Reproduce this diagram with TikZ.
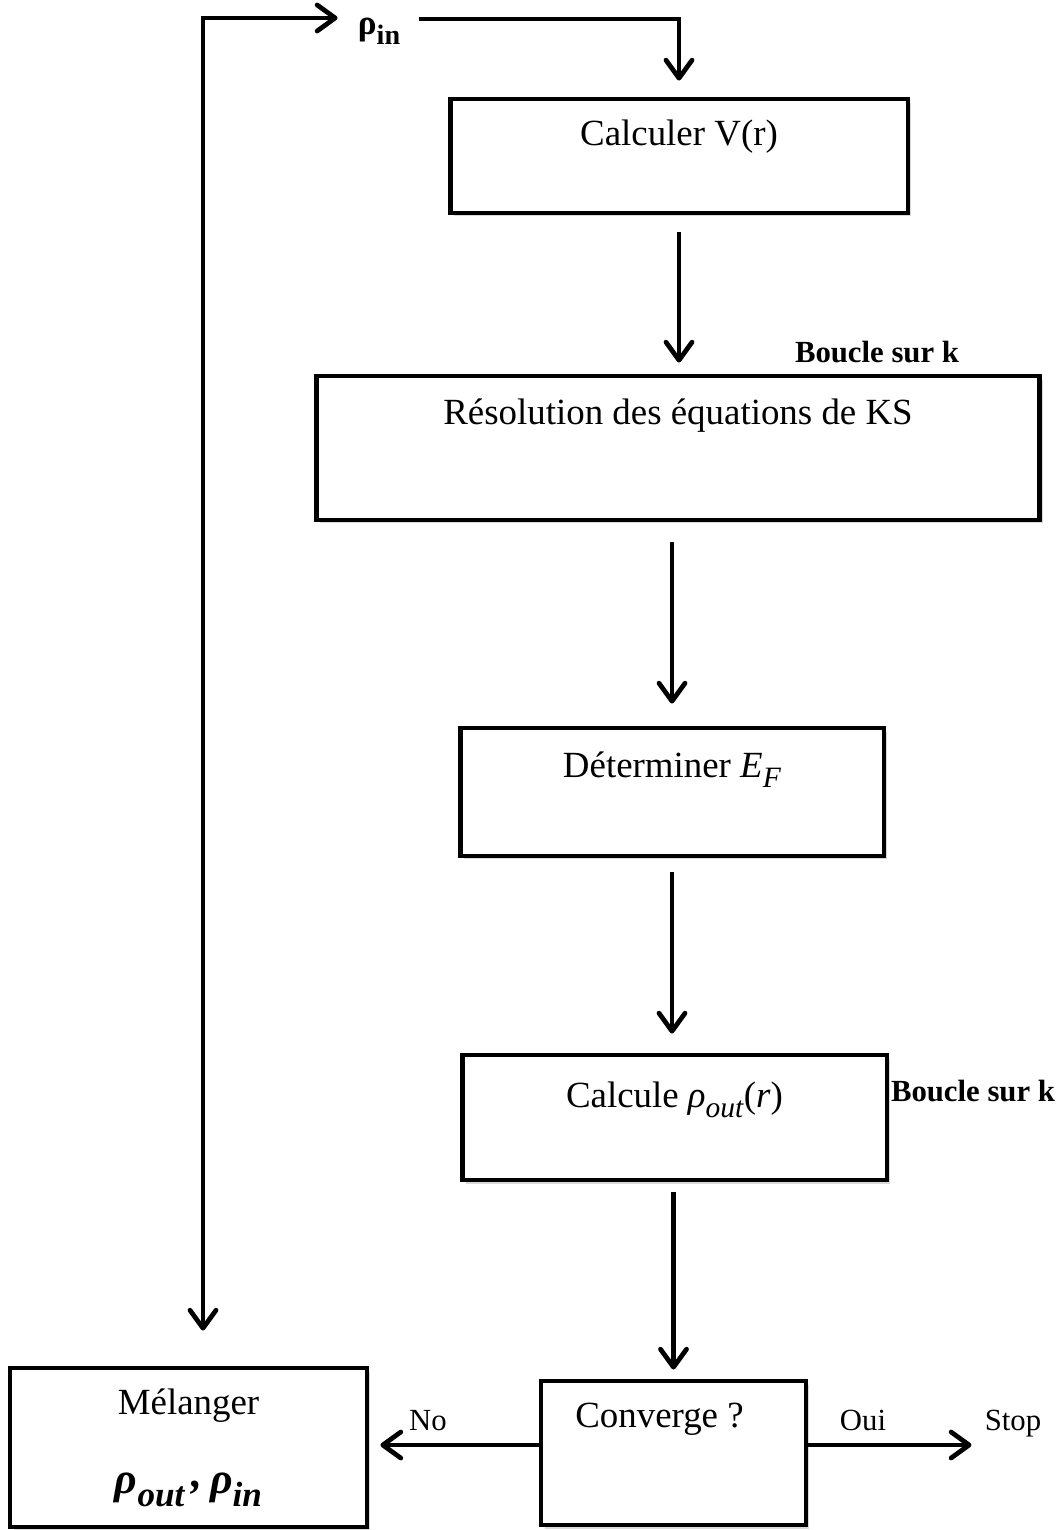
\documentclass[tikz,border=0pt]{standalone}
\usepackage{fontspec}
\setmainfont{Liberation Serif}
\usetikzlibrary{arrows.meta,positioning,calc,shadows}
% indice a la maniere de Cambria Math
\newcommand{\idx}[1]{\raisebox{-0.28em}{\scalebox{0.8}{#1}}}

\begin{document}
\begin{tikzpicture}[x=0.02cm, y=-0.02cm,
  box/.style={draw, line width=2.8pt, inner sep=0pt, fill=white,
    font=\fontsize{21}{25}\selectfont,
    drop shadow={shadow xshift=0.07cm, shadow yshift=-0.07cm, opacity=0.3}},
  lbl/.style={font=\fontsize{17.5}{21}\selectfont, inner sep=0pt, anchor=base},
  arr/.style={-{Straight Barb[length=0.36cm, width=0.52cm, round]}, line width=2.7pt},
  arrboth/.style={{Straight Barb[length=0.36cm, width=0.52cm, round]}-{Straight Barb[length=0.36cm, width=0.52cm, round]},
    line width=2.7pt}
]
\useasboundingbox (0,0) rectangle (1062,1530);

\node[box, minimum width=9.16cm, minimum height=2.28cm, text height=0.925cm, text depth=1.355cm] (calc) at (679,156) {Calculer V(r)};
\node[box, minimum width=14.48cm, minimum height=2.88cm, text height=0.965cm, text depth=1.915cm] (ks) at (678,448) {Résolution des équations de KS};
\node[box, minimum width=8.48cm, minimum height=2.56cm, text height=0.985cm, text depth=1.575cm] (ef) at (672,792) {Déterminer \textit{E}\idx{\textit{F}}};
\node[box, minimum width=8.5cm, minimum height=2.5cm, text height=1.045cm, text depth=1.455cm] (rho) at (674.5,1117.5) {Calcule \textit{ρ}\idx{\textit{out}}(\textit{r})};
\node[box, minimum width=5.3cm, minimum height=2.88cm, text height=0.925cm, text depth=1.955cm] (conv) at (673.5,1453) {Converge ?\hspace*{0.56cm}};
\node[box, minimum width=7.14cm, minimum height=3.18cm, align=center] (mix) at (188.5,1447.5)
  {Mélanger\\[0.72cm] {\fontsize{25}{29}\selectfont\bfseries\itshape ρ\idx{out}\,\raisebox{0.15em}{,}\,ρ\idx{in}}};

\node[font=\bfseries\fontsize{20}{24}\selectfont, inner sep=0pt] (rin) at (379,31) {ρ\idx{in}};
\node[lbl, font=\bfseries\fontsize{17.5}{21}\selectfont] (loop1) at (877,363) {Boucle sur k};
\node[lbl, font=\bfseries\fontsize{17.5}{21}\selectfont] (loop2) at (973,1101) {Boucle sur k};
\node[lbl] (no) at (428,1430) {No};
\node[lbl] (oui) at (863,1430) {Oui};
\node[lbl] (stop) at (1013,1430) {Stop};

% boucle de retour
\draw[arrboth] ([xshift=0.29cm, yshift=0.7cm]mix.north) |- ([xshift=-0.4cm]rin.west |- 0,18);
\draw[arr] ([xshift=0.38cm]rin.east |- 0,19) -| ([yshift=0.32cm]calc.north);

\draw[arr, shorten <=0.34cm, shorten >=0.22cm] (calc.south) -- (calc.south |- ks.north);
\draw[arr, shorten <=0.4cm, shorten >=0.44cm] (ks.south -| ef.north) -- (ef.north);
\draw[arr, shorten <=0.28cm, shorten >=0.38cm] (ef.south) -- (ef.south |- rho.north);
\draw[arr, shorten <=0.2cm, shorten >=0.18cm] (rho.south -| conv.north) -- (conv.north);

\draw[arr, shorten >=0.22cm] ([yshift=0.16cm]conv.west) -- ([yshift=0.16cm]conv.west -| mix.east);
\draw[arr, shorten >=0.26cm] ([yshift=0.16cm]conv.east) -- ([yshift=0.16cm]conv.east -| stop.west);
\end{tikzpicture}
\end{document}
